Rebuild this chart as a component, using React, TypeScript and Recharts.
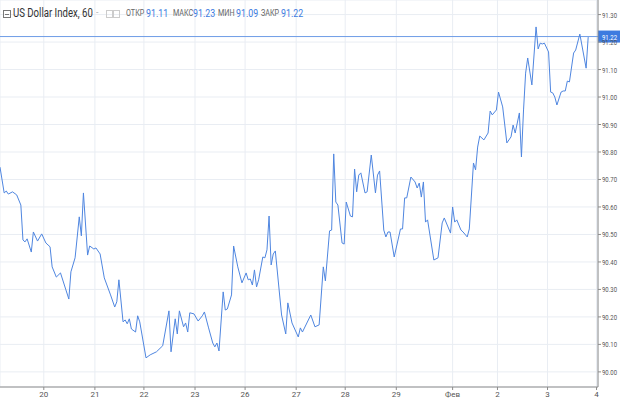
import React from "react";
import {
  LineChart,
  Line,
  XAxis,
  YAxis,
  CartesianGrid,
  ReferenceLine,
} from "recharts";

// hour index since start of visible window
const hours = [
  0, 2, 3, 4, 6, 8, 10, 11, 12, 13, 15, 16, 18, 20, 22, 24, 25, 27, 29, 33, 34, 36, 38, 39, 40,
  42, 43, 45, 46, 48, 50, 53, 55, 56, 57, 59, 60, 61, 62, 63, 65, 66, 67, 70, 72, 75, 78, 81, 82,
  84, 85, 86, 88, 89, 90, 91, 93, 95, 97, 98, 100, 102, 103, 104, 105, 107, 108, 109, 111, 112,
  114, 116, 118, 119, 120, 121, 122, 123, 124, 126, 127, 128, 129, 130, 131, 132, 135, 137, 138,
  140, 143, 144, 145, 149, 151, 153, 155, 156, 158, 159, 160, 161, 162, 164, 165, 166, 168, 169,
  170, 171, 172, 173, 175, 176, 178, 180, 181, 182, 184, 185, 186, 187, 189, 192, 193, 194, 195,
  197, 199, 200, 201, 202, 203, 204, 205, 208, 210, 212, 213, 216, 217, 218, 219, 221, 222, 224,
  225, 227, 228, 229, 230, 232, 234, 235, 236, 238, 239, 241, 243, 245, 246, 247, 249, 250, 251,
  252, 253, 255, 257, 258, 259, 260, 261, 263, 264, 265, 266, 267, 269, 270, 271, 272, 273, 275,
  276, 278, 281, 282,
];

const values = [
  90.745, 90.651, 90.658, 90.647, 90.655, 90.644, 90.607, 90.48, 90.473, 90.484, 90.436, 90.509,
  90.476, 90.502, 90.469, 90.455, 90.382, 90.345, 90.36, 90.265, 90.364, 90.415, 90.564, 90.495,
  90.651, 90.425, 90.458, 90.447, 90.451, 90.429, 90.342, 90.28, 90.236, 90.255, 90.335, 90.182,
  90.189, 90.175, 90.193, 90.156, 90.145, 90.204, 90.182, 90.051, 90.062, 90.073, 90.095, 90.222,
  90.073, 90.193, 90.138, 90.222, 90.164, 90.178, 90.145, 90.215, 90.211, 90.185, 90.204, 90.218,
  90.16, 90.105, 90.091, 90.105, 90.076, 90.291, 90.225, 90.229, 90.28, 90.458, 90.382, 90.324,
  90.36, 90.335, 90.338, 90.316, 90.371, 90.309, 90.335, 90.418, 90.415, 90.444, 90.567, 90.389,
  90.429, 90.44, 90.207, 90.138, 90.251, 90.178, 90.127, 90.16, 90.145, 90.207, 90.164, 90.171,
  90.382, 90.331, 90.513, 90.516, 90.793, 90.618, 90.607, 90.469, 90.465, 90.618, 90.567, 90.564,
  90.738, 90.655, 90.716, 90.724, 90.651, 90.655, 90.789, 90.651, 90.716, 90.731, 90.516, 90.491,
  90.509, 90.509, 90.418, 90.52, 90.52, 90.633, 90.633, 90.709, 90.691, 90.669, 90.687, 90.636,
  90.691, 90.545, 90.553, 90.407, 90.415, 90.542, 90.56, 90.505, 90.6, 90.545, 90.553, 90.516,
  90.509, 90.491, 90.52, 90.76, 90.735, 90.818, 90.858, 90.844, 90.869, 90.949, 90.935, 90.953,
  91.018, 90.964, 90.833, 90.855, 90.898, 90.869, 90.942, 90.782, 90.953, 91.087, 91.142, 91.044,
  91.255, 91.175, 91.196, 91.193, 91.196, 91.164, 91.018, 91.015, 91.0, 90.971, 91.018, 91.022,
  91.022, 91.058, 91.055, 91.16, 91.171, 91.229, 91.105, 91.218,
];

const xTicks = [21, 45.5, 69, 93.5, 117.5, 142, 165.5, 190, 217, 238.5, 262.5, 286];
const xTickLabels = ["20", "21", "22", "23", "26", "27", "28", "29", "Фев", "2", "3", "4"];
const yTicks = [90.0, 90.1, 90.2, 90.3, 90.4, 90.5, 90.6, 90.7, 90.8, 90.9, 91.0, 91.1, 91.2, 91.3];

const lastPrice = 91.22;
const headerTitle = "US Dollar Index, 60";
const ohlcLabels = ["ОТКР", "МАКС", "МИН", "ЗАКР"];
const ohlcValues = ["91.11", "91.23", "91.09", "91.22"];

const data = hours.map((h, i) => ({ h, v: values[i] }));

const LINE_BLUE = "#4f86e0";
const AXIS_FONT = "Roboto, sans-serif";

const YTick = (props: any) => {
  const { x, y, payload } = props;
  return (
    <text
      x={x}
      y={y + 3}
      fill="#555"
      fontSize={7}
      fontFamily={AXIS_FONT}
      textLength={15}
      lengthAdjust="spacingAndGlyphs"
    >
      {Number(payload.value).toFixed(2)}
    </text>
  );
};

const XTick = (props: any) => {
  const { x, y, payload } = props;
  const label = xTickLabels[xTicks.indexOf(payload.value)] ?? "";
  return (
    <text
      x={x}
      y={y + 7}
      fill="#555"
      fontSize={8}
      fontFamily={AXIS_FONT}
      textAnchor="middle"
    >
      {label}
    </text>
  );
};

const PriceLabel = (props: any) => {
  const vb = props.viewBox || {};
  const x = (vb.x || 0) + (vb.width || 0);
  const y = vb.y || 0;
  return (
    <g>
      <rect x={x} y={y - 6} width={22} height={12} fill="#3d7be0" />
      <text
        x={x + 4}
        y={y + 3}
        fill="#ffffff"
        fontSize={7}
        fontFamily={AXIS_FONT}
        textLength={15}
        lengthAdjust="spacingAndGlyphs"
      >
        {lastPrice.toFixed(2)}
      </text>
    </g>
  );
};

const squeeze: React.CSSProperties = {
  position: "absolute",
  whiteSpace: "nowrap",
  display: "inline-block",
  transform: "scaleX(0.8)",
  transformOrigin: "left center",
};

export default function App() {
  const positions = [126, 173, 218, 261];
  const valuePositions = [146, 193, 236, 281];
  return (
    <div style={{ position: "absolute", left: 0, top: 0, width: 620, height: 399, background: "#fff" }}>
      <LineChart
        width={620}
        height={399}
        data={data}
        margin={{ top: 0, right: 0, bottom: 0, left: 0 }}
      >
        <CartesianGrid stroke="#e9edf3" strokeWidth={1} />
        <XAxis
          dataKey="h"
          type="number"
          domain={[0, 286.7]}
          ticks={xTicks}
          allowDataOverflow
          height={12}
          tickSize={3}
          tickMargin={0}
          interval={0}
          stroke="#8c8c8c"
          tick={<XTick />}
        />
        <YAxis
          orientation="right"
          type="number"
          domain={[89.945, 91.353]}
          ticks={yTicks}
          allowDataOverflow
          width={22}
          tickSize={3}
          tickMargin={1}
          interval={0}
          stroke="#8c8c8c"
          tick={<YTick />}
        />
        <ReferenceLine
          y={lastPrice}
          stroke="#6f9de6"
          strokeWidth={1}
          label={<PriceLabel />}
          ifOverflow="visible"
        />
        <Line
          type="linear"
          dataKey="v"
          stroke={LINE_BLUE}
          strokeWidth={1}
          dot={false}
          isAnimationActive={false}
        />
      </LineChart>
      <div
        style={{
          position: "absolute",
          left: 0,
          top: 0,
          width: 310,
          height: 28,
          fontFamily: AXIS_FONT,
          fontSize: 11,
          color: "#333",
        }}
      >
        <div
          style={{
            position: "absolute",
            left: 3,
            top: 10,
            width: 6,
            height: 6,
            border: "1px solid #777",
          }}
        >
          <div style={{ position: "absolute", left: 1, top: 2.5, width: 4, height: 1, background: "#777" }} />
        </div>
        <span style={{ ...squeeze, left: 13, top: 6, fontSize: 12, color: "#333" }}>{headerTitle}</span>
        <span style={{ ...squeeze, left: 96, top: 6, fontSize: 11, color: "#bbb" }}>-</span>
        <div style={{ position: "absolute", left: 106, top: 10, width: 5, height: 6, border: "1px solid #ccc" }} />
        <div style={{ position: "absolute", left: 113, top: 10, width: 5, height: 6, border: "1px solid #ccc" }} />
        {ohlcLabels.map((l, i) => (
          <React.Fragment key={l}>
            <span style={{ ...squeeze, left: positions[i], top: 8, fontSize: 9, color: "#666" }}>{l}</span>
            <span style={{ ...squeeze, left: valuePositions[i], top: 7, fontSize: 11, color: "#3d7be0" }}>
              {ohlcValues[i]}
            </span>
          </React.Fragment>
        ))}
      </div>
    </div>
  );
}
